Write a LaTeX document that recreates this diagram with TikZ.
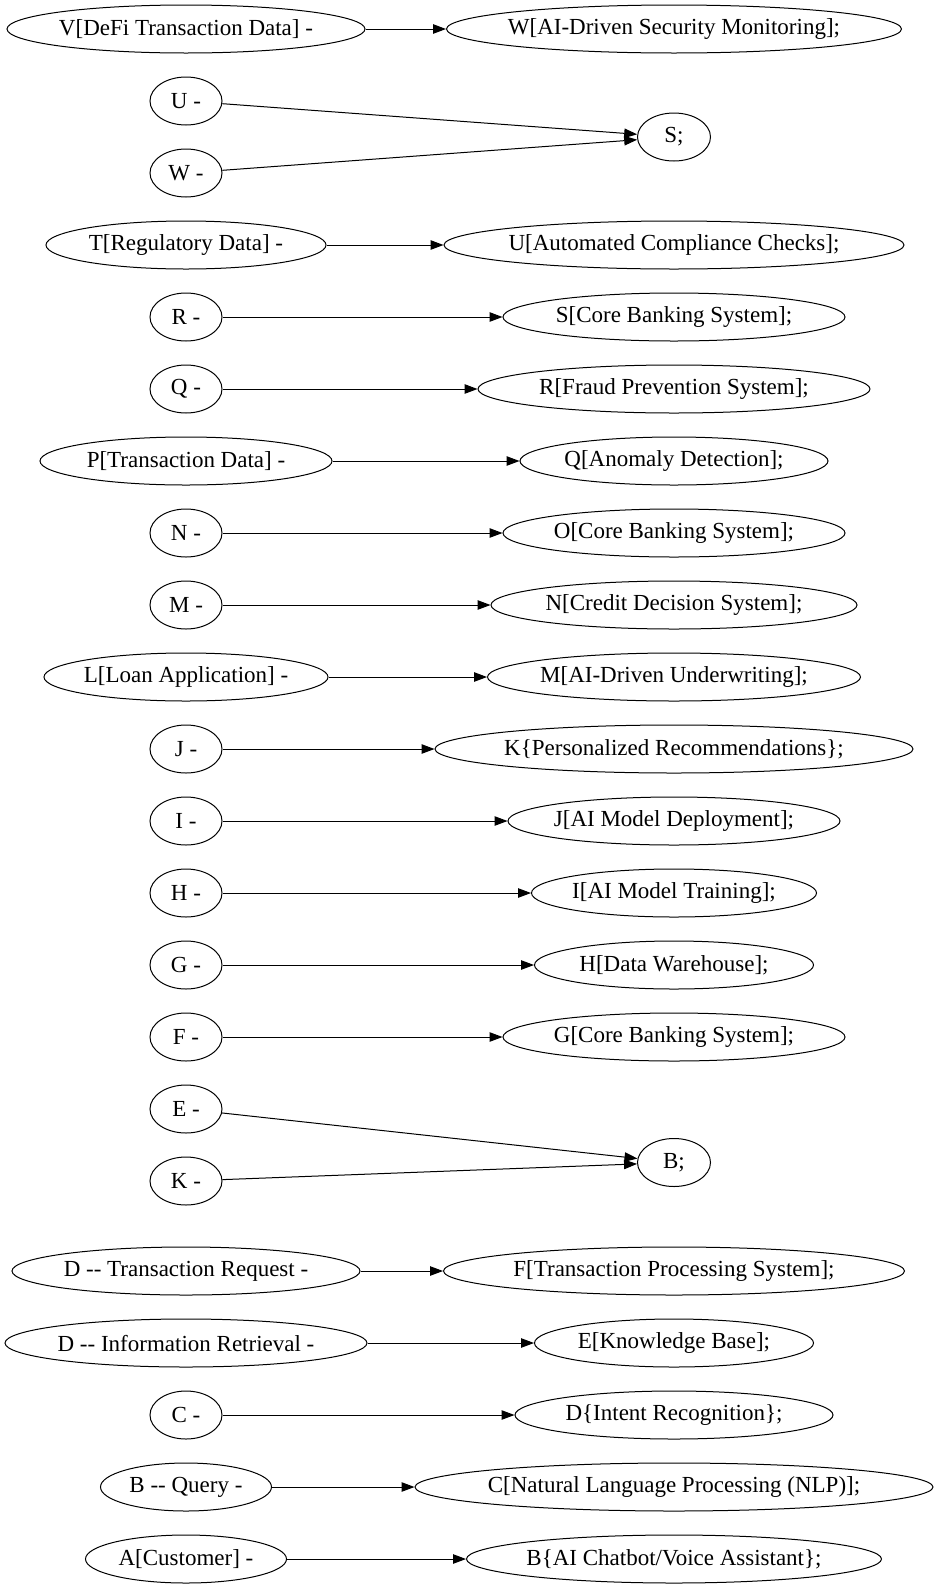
\documentclass[tikz,border=0pt]{standalone}
\usepackage{fontspec}
\newfontfamily\gvfont{Liberation Serif}
\usetikzlibrary{arrows.meta,shapes.geometric}
\begin{document}
\begin{tikzpicture}[x=1pt,y=-1pt,
  gv/.style={draw,ellipse,line width=1pt,inner xsep=-30pt,inner ysep=0pt,minimum height=48pt,font=\gvfont\fontsize{23}{27}\selectfont},
  edge/.style={draw,line width=1pt,-{Triangle[length=13pt,width=9.5pt]}}]
\useasboundingbox (0,0) rectangle (939,1588);
% left column
\node[gv,minimum width=358pt] (v) at (186,29) {V[DeFi Transaction Data] -};
\node[gv,minimum width=72pt] (u) at (186,101) {U -};
\node[gv,minimum width=72pt] (wl) at (186,173) {W -};
\node[gv,minimum width=280pt] (t) at (186,245) {T[Regulatory Data] -};
\node[gv,minimum width=72pt] (rl) at (186,317) {R -};
\node[gv,minimum width=72pt] (ql) at (186,389) {Q -};
\node[gv,minimum width=292pt] (p) at (186,461) {P[Transaction Data] -};
\node[gv,minimum width=72pt] (nl) at (186,533) {N -};
\node[gv,minimum width=72pt] (ml) at (186,605) {M -};
\node[gv,minimum width=284pt] (l) at (186,677) {L[Loan Application] -};
\node[gv,minimum width=72pt] (jl) at (186,749) {J -};
\node[gv,minimum width=72pt] (il) at (186,821) {I -};
\node[gv,minimum width=72pt] (hl) at (186,893) {H -};
\node[gv,minimum width=72pt] (gl) at (186,965) {G -};
\node[gv,minimum width=72pt] (fl) at (186,1037) {F -};
\node[gv,minimum width=72pt] (el) at (186,1109) {E -};
\node[gv,minimum width=72pt] (kl) at (186,1181) {K -};
\node[gv,minimum width=348pt] (dtr) at (186,1271) {D -- Transaction Request -};
\node[gv,minimum width=362pt] (dir) at (186,1343) {D -- Information Retrieval -};
\node[gv,minimum width=72pt] (cl) at (186,1415) {C -};
\node[gv,minimum width=171pt] (bq) at (186,1487) {B -- Query -};
\node[gv,minimum width=201pt] (a) at (186,1559) {A[Customer] -};
% right column
\node[gv,minimum width=455pt] (w) at (674,29) {W[AI-Driven Security Monitoring];};
\node[gv,minimum width=73pt] (s) at (674,137) {S;};
\node[gv,minimum width=460pt] (ur) at (674,245) {U[Automated Compliance Checks];};
\node[gv,minimum width=342pt] (sr) at (674,317) {S[Core Banking System];};
\node[gv,minimum width=392pt] (rr) at (674,389) {R[Fraud Prevention System];};
\node[gv,minimum width=308pt] (qr) at (674,461) {Q[Anomaly Detection];};
\node[gv,minimum width=342pt] (or) at (674,533) {O[Core Banking System];};
\node[gv,minimum width=366pt] (nr) at (674,605) {N[Credit Decision System];};
\node[gv,minimum width=373pt] (mr) at (674,677) {M[AI-Driven Underwriting];};
\node[gv,minimum width=478pt] (kr) at (674,749) {K\{Personalized Recommendations\};};
\node[gv,minimum width=332pt] (jr) at (674,821) {J[AI Model Deployment];};
\node[gv,minimum width=285pt] (ir) at (674,893) {I[AI Model Training];};
\node[gv,minimum width=279pt] (hr) at (674,965) {H[Data Warehouse];};
\node[gv,minimum width=342pt] (gr) at (674,1037) {G[Core Banking System];};
\node[gv,minimum width=73pt] (b) at (674,1162.5) {B;};
\node[gv,minimum width=461pt] (fr) at (674,1271) {F[Transaction Processing System];};
\node[gv,minimum width=279pt] (er) at (674,1343) {E[Knowledge Base];};
\node[gv,minimum width=318pt] (dr) at (674,1415) {D\{Intent Recognition\};};
\node[gv,minimum width=518pt] (cr) at (674,1487) {C[Natural Language Processing (NLP)];};
\node[gv,minimum width=415pt] (br) at (674,1559) {B\{AI Chatbot/Voice Assistant\};};
% edges
\draw[edge] (v) -- (w);
\draw[edge] (u) -- (s);
\draw[edge] (wl) -- (s);
\draw[edge] (t) -- (ur);
\draw[edge] (rl) -- (sr);
\draw[edge] (ql) -- (rr);
\draw[edge] (p) -- (qr);
\draw[edge] (nl) -- (or);
\draw[edge] (ml) -- (nr);
\draw[edge] (l) -- (mr);
\draw[edge] (jl) -- (kr);
\draw[edge] (il) -- (jr);
\draw[edge] (hl) -- (ir);
\draw[edge] (gl) -- (hr);
\draw[edge] (fl) -- (gr);
\draw[edge] (el) -- (b);
\draw[edge] (kl) -- (b);
\draw[edge] (dtr) -- (fr);
\draw[edge] (dir) -- (er);
\draw[edge] (cl) -- (dr);
\draw[edge] (bq) -- (cr);
\draw[edge] (a) -- (br);
\end{tikzpicture}
\end{document}
